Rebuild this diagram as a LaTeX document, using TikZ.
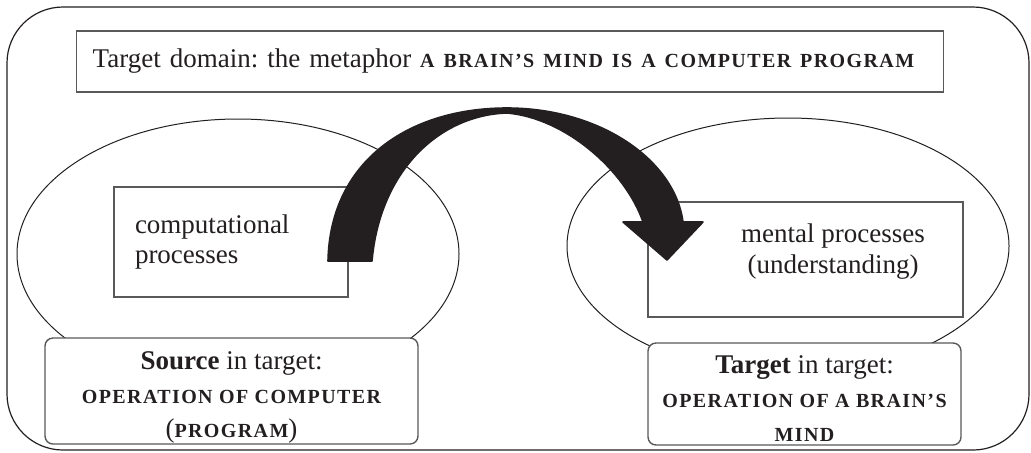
\documentclass[tikz,border=0pt]{standalone}
\usepackage{fontspec}
\setmainfont{Liberation Serif}
\newfontfamily\scfont[LetterSpace=7]{Liberation Serif}
\newcommand{\bsc}[1]{{\scfont\bfseries\fontsize{10}{10}\selectfont #1}}
\usepackage{xcolor}
\definecolor{ink}{HTML}{231F20}
\definecolor{frameline}{HTML}{58595B}
\frenchspacing

\begin{document}
\begin{tikzpicture}[x=0.5pt,y=-0.5pt,
    plainbox/.style={draw=frameline,line width=0.7pt,fill=white,inner sep=0pt,text=ink},
    roundbox/.style={plainbox,rounded corners=4pt,align=center,font=\fontsize{13.5}{17}\selectfont},
    domainline/.style={draw=ink,line width=0.5pt}]
  \useasboundingbox (0,0) rectangle (1031,452);
  \draw[ink,line width=0.6pt,rounded corners=28pt] (7,7) rectangle (1029,450);
  \node[plainbox,anchor=west,text width=417.5pt,minimum height=30.5pt,inner xsep=8pt,
        align=left,font=\fontsize{13.5}{16}\selectfont] (title) at (76,61.5)
    {Target domain: the metaphor \bsc{A BRAIN’S MIND IS A COMPUTER PROGRAM}};
  % source and target domains
  \draw[domainline] (238,254) ellipse [x radius=221,y radius=135];
  \draw[domainline] (788,246) ellipse [x radius=221,y radius=128];
  \node[plainbox,text width=96pt,minimum height=55pt,inner xsep=10.5pt,align=left,
        font=\fontsize{13.5}{15}\selectfont] (comp) at (231,242) {computational\\processes};
  \node[plainbox,minimum width=157.5pt,minimum height=57.5pt] (mentbox) at (805.5,259.5) {};
  \node[align=center,text=ink,font=\fontsize{13.5}{15.5}\selectfont] (ment) at (833,252)
    {mental processes\\(understanding)};
  \node[roundbox,minimum width=186.5pt,minimum height=53pt] (source) at (231.5,391)
    {\rule{0pt}{15.5pt}\textbf{Source} in target:\\\bsc{OPERATION OF COMPUTER}\\(\bsc{PROGRAM})};
  \node[roundbox,minimum width=156.5pt,minimum height=51pt] (target) at (804.5,394)
    {\rule{0pt}{13.5pt}\textbf{Target} in target:\\\bsc{OPERATION OF A BRAIN’S}\\\bsc{MIND}};
  % mapping arrow
  \filldraw[ink,line width=0.8pt,line join=round]
    (328,261) .. controls (330,160) and (410,108) .. (507,108)
    .. controls (600,108) and (675,160) .. (683,222)
    -- (703,222) -- (667,260) -- (623,222) -- (643,222)
    .. controls (625,170) and (565,118) .. (507,113)
    .. controls (440,115) and (380,170) .. (372,261) -- cycle;
\end{tikzpicture}
\end{document}
